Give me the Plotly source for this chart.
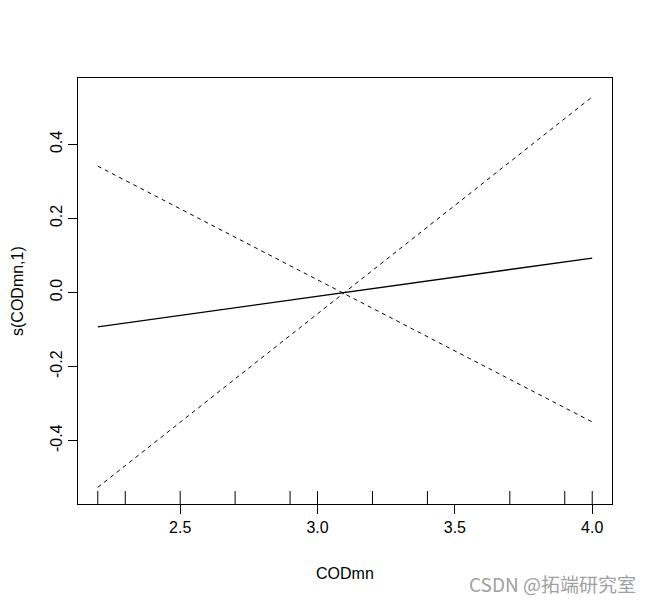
import plotly.graph_objects as go

# Data
x_fit = [2.2, 4.0]
y_fit = [-0.093, 0.093]
x_band = [2.2, 4.0]
y_band_a = [0.341, -0.3495]   # dashed line descending
y_band_b = [-0.526, 0.528]    # dashed line ascending
rug_x = [2.2, 2.3, 2.5, 2.7, 2.9, 3.0, 3.2, 3.4, 3.7, 3.9, 4.0]
x_ticks = [2.5, 3.0, 3.5, 4.0]
x_ticklabels = ["2.5", "3.0", "3.5", "4.0"]
y_ticks = [-0.4, -0.2, 0.0, 0.2, 0.4]
y_ticklabels = ["-0.4", "-0.2", "0.0", "0.2", "0.4"]

y_lo, y_hi = -0.571, 0.579
rug_len = 0.035

fig = go.Figure()
fig.add_trace(go.Scatter(x=x_fit, y=y_fit, mode="lines",
                         line=dict(color="black", width=1.3), hoverinfo="skip"))
fig.add_trace(go.Scatter(x=x_band, y=y_band_a, mode="lines",
                         line=dict(color="black", width=1, dash="4px,4px"), hoverinfo="skip"))
fig.add_trace(go.Scatter(x=x_band, y=y_band_b, mode="lines",
                         line=dict(color="black", width=1, dash="4px,4px"), hoverinfo="skip"))

# rug
rx, ry = [], []
for v in rug_x:
    rx += [v, v, None]
    ry += [y_lo, y_lo + rug_len, None]
fig.add_trace(go.Scatter(x=rx, y=ry, mode="lines",
                         line=dict(color="black", width=1), hoverinfo="skip"))

# page body has an 8px margin; figure drawn at (8,8)
OFF = 8
W, H = 653 - OFF, 602 - OFF
l, r, t, b = 78 - OFF, 41, 78 - OFF, 98
pw, ph = W - l - r, H - t - b

def px2paper(px, py):
    return (px - OFF - l) / pw, ((H - (py - OFF)) - b) / ph

font = "Liberation Sans, Arial, sans-serif"
ann_specs = [
    ("CODmn", 345, 573, 0, dict(size=16)),
    ("s(CODmn,1)", 17, 291, -90, dict(size=16)),
    ("CSDN @拓端研究室", 552, 583, 0,
     dict(size=19, color="#a0a0a0", family="Noto Sans CJK SC, sans-serif")),
]
annotations = []
for text, px, py, ang, f in ann_specs:
    ax, ay = px2paper(px, py)
    annotations.append(dict(text=text, x=ax, y=ay, xref="paper", yref="paper",
                            xanchor="center", yanchor="middle", textangle=ang,
                            showarrow=False, font=f))

fig.update_layout(
    width=W, height=H,
    margin=dict(l=l, r=r, t=t, b=b),
    plot_bgcolor="white", paper_bgcolor="white",
    showlegend=False,
    font=dict(family=font, size=16, color="black"),
    xaxis=dict(range=[2.128, 4.072], tickvals=x_ticks, ticktext=x_ticklabels,
               ticks="outside", ticklen=9, tickwidth=1, tickcolor="black",
               showline=True, linecolor="black", linewidth=1, mirror=True,
               showgrid=False, zeroline=False, tickfont=dict(size=16)),
    yaxis=dict(range=[y_lo, y_hi], tickvals=y_ticks, ticktext=y_ticklabels,
               ticks="outside", ticklen=9, tickwidth=1, tickcolor="black",
               tickangle=-90,
               showline=True, linecolor="black", linewidth=1, mirror=True,
               showgrid=False, zeroline=False, tickfont=dict(size=16)),
    annotations=annotations,
)

fig.write_html("out.html")
